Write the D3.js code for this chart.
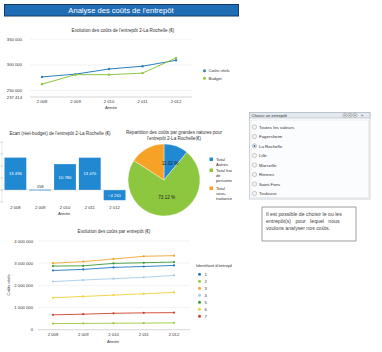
<!DOCTYPE html>
<html>
<head>
<meta charset="utf-8">
<script src="https://cdn.jsdelivr.net/npm/d3@7"></script>
<style>
  body { margin: 0; background: #fff; }
  svg { display: block; font-family: "Liberation Sans", Arial, sans-serif; }
</style>
</head>
<body>
<div id="chart"></div>
<script>
// Data
const years = ["2 008", "2 009", "2 010", "2 011", "2 012"];
const coutsReels = [276600, 282000, 292000, 297500, 309000];
const budget = [262500, 281000, 281000, 284000, 313600];
const ecarts = [13496, 158, 10780, 13470, -4261];
const pieLabels = ["Total Autres", "Total frais de personnel", "Total sous-traitance"];
const pieLegendLines = [["Total", "Autres"], ["Total frais", "de", "personnel"], ["Total", "sous-", "traitance"]];
const pieValues = [11.02, 73.12, 15.86];
const pieShown = ["11.02 %", "73.12 %", ""];
const entrepotIds = ["1", "2", "3", "4", "5", "6", "7"];
const serie1 = [2670000, 2720000, 2810000, 2850000, 2900000];
const serie2 = [276600, 282000, 292000, 297500, 309000];
const serie3 = [3000000, 3070000, 3190000, 3310000, 3340000];
const serie4 = [2170000, 2240000, 2300000, 2360000, 2450000];
const serie5 = [2870000, 2880000, 2990000, 3020000, 3050000];
const serie6 = [1440000, 1500000, 1560000, 1620000, 1680000];
const serie7 = [670000, 700000, 740000, 760000, 770000];
const entrepots = ["Toutes les valeurs", "Fagersheim", "La Rochelle", "Lille", "Marseille", "Rennes", "Saint-Fons", "Toulouse"];
const selected = "La Rochelle";

const W = 382, H = 352;
const fmt = v => d3.format(",")(v).replace(/,/g, " ");
const txt = "#333", grid = "#e6e6e6", axisCol = "#bbb";

const svg = d3.select("#chart").append("svg").attr("width", W).attr("height", H);
svg.append("rect").attr("width", W).attr("height", H).attr("fill", "#fff");

// legends of the dashboard panel are cut at its right edge
svg.append("defs").append("clipPath").attr("id", "panel-clip")
  .append("rect").attr("x", 0).attr("y", 0).attr("width", 232).attr("height", H);

// Title bar
svg.append("rect").attr("x", 4.5).attr("y", 4.5).attr("width", 234).attr("height", 11.5)
  .attr("fill", "#1f6db4").attr("stroke", "#173a63").attr("stroke-width", 1);
svg.append("text").attr("x", 121).attr("y", 13.2).attr("text-anchor", "middle")
  .attr("fill", "#fff").attr("font-size", 7.6).text("Analyse des coûts de l'entrepôt");

// ---------- Chart 1 : évolution La Rochelle ----------
{
  const x = d3.scalePoint().domain(years).range([42, 176]);
  const y = d3.scaleLinear().domain([237414, 350000]).range([97, 39.3]);
  const ticks = [237414, 250000, 300000, 350000];
  const g = svg.append("g");
  g.append("text").attr("x", 123).attr("y", 31.5).attr("text-anchor", "middle")
    .attr("font-size", 4.6).attr("fill", txt).text("Evolution des coûts de l'entrepôt 2-La Rochelle (€)");
  g.selectAll("line.grid").data(ticks.slice(1)).join("line")
    .attr("x1", 30).attr("x2", 192).attr("y1", d => y(d)).attr("y2", d => y(d))
    .attr("stroke", grid).attr("stroke-width", 0.5);
  g.selectAll("text.yt").data(ticks).join("text")
    .attr("x", 22).attr("y", d => y(d) + 1.5).attr("text-anchor", "end")
    .attr("font-size", 4.2).attr("fill", txt).text(d => fmt(d));
  g.append("line").attr("x1", 30).attr("x2", 192).attr("y1", 97).attr("y2", 97)
    .attr("stroke", axisCol).attr("stroke-width", 0.6);
  g.selectAll("text.xt").data(years).join("text")
    .attr("x", d => x(d)).attr("y", 102.5).attr("text-anchor", "middle")
    .attr("font-size", 4.2).attr("fill", txt).text(d => d);
  g.append("text").attr("x", 111).attr("y", 109).attr("text-anchor", "middle")
    .attr("font-size", 4.2).attr("fill", txt).text("Année");
  const series = [{ name: "Coûts réels", vals: coutsReels, c: "#2a80c4" }, { name: "Budget", vals: budget, c: "#8dc63f" }];
  const line = d3.line().x((d, i) => x(years[i])).y(d => y(d));
  series.forEach((s, k) => {
    g.append("path").attr("d", line(s.vals)).attr("fill", "none").attr("stroke", s.c).attr("stroke-width", 1);
    g.selectAll(null).data(s.vals).join("circle")
      .attr("cx", (d, i) => x(years[i])).attr("cy", d => y(d)).attr("r", 1.2).attr("fill", s.c);
    g.append("circle").attr("cx", 204.5).attr("cy", 70.7 + k * 7.6).attr("r", 1.5).attr("fill", s.c);
    g.append("text").attr("x", 208.5).attr("y", 72.2 + k * 7.6).attr("font-size", 4.2).attr("fill", txt).text(s.name);
  });
}

// ---------- Chart 2 : écart réel-budget ----------
{
  const x = d3.scaleBand().domain(years).range([4, 126]).paddingInner(0.12).paddingOuter(0.02);
  const y = d3.scaleLinear().domain([-5000, 20000]).range([202, 142]);
  const g = svg.append("g");
  g.append("text").attr("x", 60).attr("y", 134.5).attr("text-anchor", "middle")
    .attr("font-size", 4.6).attr("fill", txt).text("Ecart (réel-budget) de l'entrepôt 2-La Rochelle (€)");
  g.selectAll("line.tk").data(d3.range(-5000, 20001, 5000)).join("line")
    .attr("x1", 0.5).attr("x2", 3).attr("y1", d => y(d)).attr("y2", d => y(d))
    .attr("stroke", "#999").attr("stroke-width", 0.5);
  g.append("line").attr("x1", 2).attr("x2", 2).attr("y1", 142).attr("y2", 202).attr("stroke", "#ccc").attr("stroke-width", 0.4);
  g.selectAll("rect.bar").data(ecarts).join("rect")
    .attr("x", (d, i) => x(years[i])).attr("width", x.bandwidth())
    .attr("y", d => y(Math.max(0, d))).attr("height", d => Math.max(0.8, Math.abs(y(d) - y(0))))
    .attr("fill", "#2188d2");
  g.append("line").attr("x1", 2).attr("x2", 126).attr("y1", y(0)).attr("y2", y(0)).attr("stroke", "#ccc").attr("stroke-width", 0.4);
  g.selectAll("text.val").data(ecarts).join("text")
    .attr("x", (d, i) => x(years[i]) + x.bandwidth() / 2)
    .attr("y", d => Math.abs(y(d) - y(0)) < 8 ? y(Math.max(0, d)) - 2 : (y(d) + y(0)) / 2 + 1.5)
    .attr("text-anchor", "middle").attr("font-size", 4.2)
    .attr("fill", d => Math.abs(y(d) - y(0)) < 8 ? txt : "#fff").text(d => fmt(d));
  g.selectAll("text.xt").data(years).join("text")
    .attr("x", d => x(d) + x.bandwidth() / 2).attr("y", 208.5).attr("text-anchor", "middle")
    .attr("font-size", 4.2).attr("fill", txt).text(d => d);
  g.append("text").attr("x", 64).attr("y", 215).attr("text-anchor", "middle")
    .attr("font-size", 4.2).attr("fill", txt).text("Année");
}

// ---------- Chart 3 : répartition (camembert) ----------
{
  const colors = ["#2188d2", "#8dc63f", "#f5a226"];
  const g = svg.append("g");
  g.append("text").attr("x", 174).attr("y", 134).attr("text-anchor", "middle")
    .attr("font-size", 4.6).attr("fill", txt).text("Répartition des coûts par grandes natures pour");
  g.append("text").attr("x", 174).attr("y", 139.5).attr("text-anchor", "middle")
    .attr("font-size", 4.6).attr("fill", txt).text("l'entrepôt 2-La Rochelle(€)");
  const pie = d3.pie().sort(null)(pieValues);
  const arc = d3.arc().innerRadius(0).outerRadius(36);
  const pg = g.append("g").attr("transform", "translate(164,180)");
  pg.selectAll("path").data(pie).join("path").attr("d", arc)
    .attr("fill", (d, i) => colors[i]).attr("stroke", "#fff").attr("stroke-width", 0.4);
  pg.selectAll("text").data(pie).join("text")
    .attr("transform", d => `translate(${arc.centroid(d)})`).attr("dy", 1.5)
    .attr("text-anchor", "middle").attr("font-size", 4.6).attr("fill", "#222")
    .text((d, i) => pieShown[i]);
  const ly = [159.5, 170.5, 188.5];
  const lg = g.append("g").attr("clip-path", "url(#panel-clip)");
  pieLegendLines.forEach((lines, i) => {
    lg.append("rect").attr("x", 209.5).attr("y", ly[i] - 2).attr("width", 3.5).attr("height", 3.5).attr("fill", colors[i]);
    lines.forEach((l, j) => {
      lg.append("text").attr("x", 216).attr("y", ly[i] + 1.2 + j * 5).attr("font-size", 4.2).attr("fill", txt).text(l);
    });
  });
}

// ---------- Chart 4 : évolution par entrepôt ----------
{
  const data = [serie1, serie2, serie3, serie4, serie5, serie6, serie7];
  const colors = ["#1f78c0", "#9bc93c", "#f0a430", "#a7cbeb", "#3a9a3a", "#f3cf3a", "#c9412d"];
  const x = d3.scalePoint().domain(years).range([53, 174]);
  const y = d3.scaleLinear().domain([0, 4000000]).range([329.7, 241]);
  const g = svg.append("g");
  g.append("text").attr("x", 114).attr("y", 233).attr("text-anchor", "middle")
    .attr("font-size", 4.6).attr("fill", txt).text("Evolution des coûts par entrepôt (€)");
  const ticks = y.ticks(4);
  g.selectAll("line.grid").data(ticks.slice(1)).join("line")
    .attr("x1", 38).attr("x2", 190).attr("y1", d => y(d)).attr("y2", d => y(d))
    .attr("stroke", grid).attr("stroke-width", 0.5);
  g.selectAll("text.yt").data(ticks).join("text")
    .attr("x", 33).attr("y", d => y(d) + 1.5).attr("text-anchor", "end")
    .attr("font-size", 4.2).attr("fill", txt).text(d => fmt(d));
  g.append("line").attr("x1", 38).attr("x2", 190).attr("y1", y(0)).attr("y2", y(0))
    .attr("stroke", axisCol).attr("stroke-width", 0.6);
  g.selectAll("text.xt").data(years).join("text")
    .attr("x", d => x(d)).attr("y", 335.5).attr("text-anchor", "middle")
    .attr("font-size", 4.2).attr("fill", txt).text(d => d);
  g.append("text").attr("x", 113).attr("y", 342.5).attr("text-anchor", "middle")
    .attr("font-size", 4.2).attr("fill", txt).text("Année");
  g.append("text").attr("transform", "translate(10,285) rotate(-90)").attr("text-anchor", "middle")
    .attr("font-size", 4.2).attr("fill", txt).text("Coûts réels");
  const line = d3.line().x((d, i) => x(years[i])).y(d => y(d));
  data.forEach((vals, k) => {
    g.append("path").attr("d", line(vals)).attr("fill", "none").attr("stroke", colors[k]).attr("stroke-width", 0.9);
    g.selectAll(null).data(vals).join("circle")
      .attr("cx", (d, i) => x(years[i])).attr("cy", d => y(d)).attr("r", 1.1).attr("fill", colors[k]);
  });
  const lg = g.append("g").attr("clip-path", "url(#panel-clip)");
  lg.append("text").attr("x", 196).attr("y", 267).attr("font-size", 4.2).attr("fill", txt).text("Identifiant d'entrepôt");
  entrepotIds.forEach((id, k) => {
    lg.append("circle").attr("cx", 199.5).attr("cy", 274.3 + k * 7.0).attr("r", 1.5).attr("fill", colors[k]);
    lg.append("text").attr("x", 204.5).attr("y", 275.8 + k * 7.0).attr("font-size", 4.2).attr("fill", txt).text(id);
  });
}

// ---------- Sélecteur d'entrepôt ----------
{
  const g = svg.append("g");
  g.append("rect").attr("x", 249.5).attr("y", 112.5).attr("width", 120.5).attr("height", 86.5)
    .attr("fill", "#fff").attr("stroke", "#a9b3bd").attr("stroke-width", 0.6);
  g.append("rect").attr("x", 249.5).attr("y", 112.5).attr("width", 120.5).attr("height", 5.5)
    .attr("fill", "#e4e9ef").attr("stroke", "#a9b3bd").attr("stroke-width", 0.6);
  g.append("text").attr("x", 251.5).attr("y", 116.8).attr("font-size", 4.2).attr("fill", "#333").text("Choisir un entrepôt");
  [345, 350, 355].forEach(cx => {
    g.append("circle").attr("cx", cx).attr("cy", 115.2).attr("r", 2).attr("fill", "#f4f4f4").attr("stroke", "#666").attr("stroke-width", 0.4);
    g.append("circle").attr("cx", cx).attr("cy", 115.2).attr("r", 0.6).attr("fill", "#444");
  });
  g.append("text").attr("x", 361).attr("y", 117).attr("font-size", 4.2).attr("fill", "#444").text("»");
  g.append("rect").attr("x", 251).attr("y", 120).attr("width", 117.5).attr("height", 77.5)
    .attr("fill", "#fbfcfe").attr("stroke", "#d5dde6").attr("stroke-width", 0.5);
  entrepots.forEach((name, i) => {
    const cy = 127 + i * 9.5;
    g.append("circle").attr("cx", 254.5).attr("cy", cy).attr("r", 2.2)
      .attr("fill", "#f3f3f3").attr("stroke", "#8c8c8c").attr("stroke-width", 0.4);
    if (name === selected) g.append("circle").attr("cx", 254.5).attr("cy", cy).attr("r", 1).attr("fill", "#3a6ea5");
    g.append("text").attr("x", 259).attr("y", cy + 1.5).attr("font-size", 4.4).attr("fill", "#333").text(name);
  });
}

// ---------- Note ----------
{
  const g = svg.append("g");
  g.append("rect").attr("x", 262).attr("y", 207).attr("width", 94).attr("height", 34)
    .attr("fill", "#fff").attr("stroke", "#777").attr("stroke-width", 0.7);
  const lines = ["Il est possible de choisir le ou les", "entrepôt(s)   pour   lequel   nous", "voulons analyser nos coûts."];
  lines.forEach((l, i) => {
    g.append("text").attr("x", 266).attr("y", 216 + i * 7.2).attr("font-size", 5.2).attr("fill", "#444")
      .attr("xml:space", "preserve").style("white-space", "pre").text(l);
  });
}
</script>
</body>
</html>
